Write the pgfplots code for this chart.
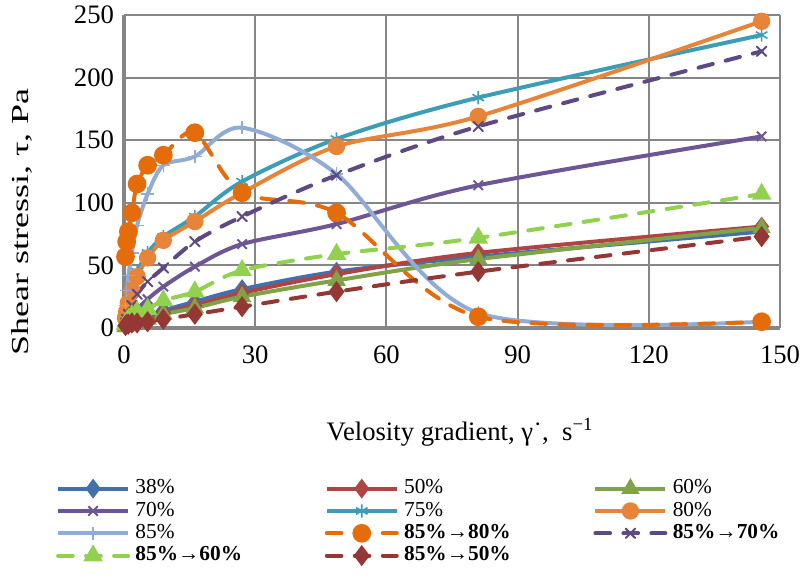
\documentclass[border=0pt]{standalone}
\usepackage{pgfplots}
\pgfplotsset{compat=1.18}
\usepackage{fontspec}
\setmainfont{Liberation Serif}
\definecolor{gridgray}{RGB}{134,134,134}
\definecolor{cA}{RGB}{66,112,172}
\definecolor{cB}{RGB}{176,68,66}
\definecolor{cC}{RGB}{128,163,72}
\definecolor{cD}{RGB}{110,86,148}
\definecolor{cE}{RGB}{62,157,182}
\definecolor{cF}{RGB}{230,133,58}
\definecolor{cG}{RGB}{145,172,212}
\definecolor{cH}{RGB}{228,108,10}
\definecolor{cI}{RGB}{94,74,130}
\definecolor{cJ}{RGB}{146,208,80}
\definecolor{cK}{RGB}{149,55,53}
\begin{document}
\begin{tikzpicture}
\useasboundingbox (-93pt,-186.75pt) rectangle (513pt,246pt);
\begin{axis}[
  at={(0,0)}, anchor=south west, scale only axis,
  width=492pt, height=234.75pt,
  xmin=0, xmax=150, ymin=0, ymax=250,
  xtick={0,30,...,150}, ytick={0,50,...,250},
  grid=major, major grid style={draw=gridgray, line width=1.5pt},
  axis x line=bottom, axis y line=left,
  axis line style={-, draw=gridgray, line width=3pt},
  major tick length=0pt,
  clip=false,
  font=\fontsize{20}{23}\selectfont,
  /pgf/number format/assume math mode=true,
  yticklabel style={xshift=-4pt},
  xticklabel style={yshift=-10pt},
  xlabel={Velosity gradient, γ˙,\ \ s\textsuperscript{−1}},
  ylabel={\scalebox{1}[0.68]{\fontsize{27}{30}\selectfont Shear stressi, τ, Pa}},
  xlabel style={at={(axis description cs:0.512,-0.332)}, anchor=center},
  ylabel style={at={(axis description cs:-0.155,0.339)}, anchor=center},
  legend columns=3, legend cell align=left,
  legend image code/.code={\draw[mark repeat=2,mark phase=2,#1] plot coordinates {(0pt,0pt) (26.25pt,0pt) (52.5pt,0pt)};},
  legend style={draw=none, fill=none, at={(axis description cs:-0.11,-0.474)}, anchor=north west,
    font=\fontsize{16}{18}\selectfont,
    nodes={inner sep=0pt, text height=11pt, text depth=3pt, text width=142pt, align=left},
    row sep=2.75pt,
    /tikz/every odd column/.append style={column sep=4pt}},
  sol/.style={line width=3pt, smooth, tension=0.5},
  das/.style={line width=3pt, smooth, tension=0.5, dash pattern=on 11pt off 10pt, line cap=round, mark options={solid}},
]
\addplot[sol, cA, mark=diamond*, mark size=5pt] table {
0.333 2
0.6 3
1.0 4
1.8 5
3.0 7
5.4 10
9.0 14
16.2 21
27 31
48.6 45
81 57
145.8 77
};
\addlegendentry{38\%}
\addplot[sol, cB, mark=diamond*, mark size=5pt] table {
0.333 2
0.6 3
1.0 4
1.8 5
3.0 6
5.4 8
9.0 12
16.2 18
27 28
48.6 43
81 60
145.8 81
};
\addlegendentry{50\%}
\addplot[sol, cC, mark=triangle*, mark size=5pt] table {
0.333 1
0.6 2
1.0 3
1.8 4
3.0 5
5.4 7
9.0 11
16.2 16
27 25
48.6 38
81 55
145.8 80
};
\addlegendentry{60\%}
\addplot[sol, cD, mark=x, mark size=5pt, mark options={line width=1.5pt}] table {
0.333 3
0.6 5
1.0 7
1.8 11
3.0 15
5.4 23
9.0 33
16.2 49
27 67
48.6 83
81 114
145.8 153
};
\addlegendentry{70\%}
\addplot[sol, cE, mark=asterisk, mark size=5pt, mark options={line width=1.2pt}] table {
0.333 10
0.6 16
1.0 24
1.8 33
3.0 45
5.4 60
9.0 73
16.2 89
27 117
48.6 151
81 184
145.8 234
};
\addlegendentry{75\%}
\addplot[sol, cF, mark=*, mark size=5pt] table {
0.333 8
0.6 13
1.0 20
1.8 30
3.0 41
5.4 56
9.0 70
16.2 85
27 108
48.6 145
81 169
145.8 245
};
\addlegendentry{80\%}
\addplot[sol, cG, mark=+, mark size=5pt, mark options={line width=1pt}] table {
0.333 18
0.6 30
1.0 42
1.8 60
3.0 82
5.4 107
9.0 130
16.2 137
27 160
48.6 123
81 12
145.8 5
};
\addlegendentry{85\%}
\addplot[das, cH, mark=*, mark size=5.5pt] table {
0.333 57
0.6 69
1.0 77
1.8 92
3.0 115
5.4 130
9.0 138
16.2 156
27 108
48.6 92
81 9
145.8 5
};
\addlegendentry{\textbf{85\%→80\%}}
\addplot[das, cI, mark=x, mark size=5pt, mark options={solid, line width=1.5pt}] table {
0.333 4
0.6 7
1.0 11
1.8 18
3.0 27
5.4 37
9.0 48
16.2 69
27 89
48.6 122
81 161
145.8 221
};
\addlegendentry{\textbf{85\%→70\%}}
\addplot[das, cJ, mark=triangle*, mark size=5.5pt] table {
0.333 3
0.6 5
1.0 7
1.8 10
3.0 13
5.4 15
9.0 22
16.2 29
27 46
48.6 59
81 72
145.8 107
};
\addlegendentry{\textbf{85\%→60\%}}
\addplot[das, cK, mark=diamond*, mark size=5.5pt] table {
0.333 2
0.6 3
1.0 3
1.8 4
3.0 4
5.4 5
9.0 7
16.2 11
27 17
48.6 29
81 45
145.8 73
};
\addlegendentry{\textbf{85\%→50\%}}
\end{axis}
\end{tikzpicture}
\end{document}
